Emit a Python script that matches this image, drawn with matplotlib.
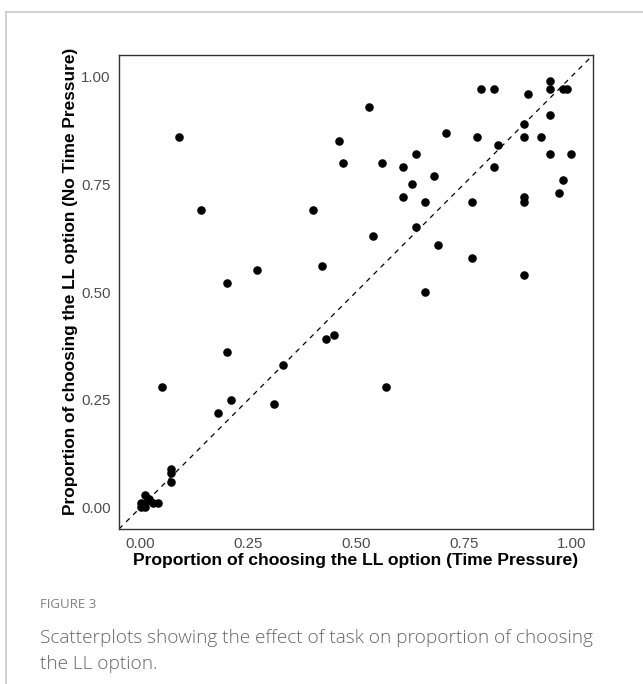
import matplotlib
matplotlib.use("Agg")
import matplotlib.pyplot as plt
from matplotlib.lines import Line2D

# Data: proportion of choosing LL option
time_pressure = [
    0.09, 0.14, 0.46, 0.47, 0.40, 0.42, 0.27, 0.20,
    0.53, 0.56, 0.54, 0.61, 0.64, 0.63, 0.61, 0.66, 0.68, 0.64,
    0.71, 0.69, 0.77, 0.77, 0.78, 0.79, 0.82, 0.82, 0.83,
    0.89, 0.89, 0.90, 0.89, 0.89, 0.89, 0.93, 0.95, 0.95, 0.95, 0.95,
    0.98, 0.99, 1.00, 0.98, 0.97,
    0.05, 0.20, 0.18, 0.21, 0.31, 0.33, 0.43, 0.45,
    0.07, 0.07, 0.07, 0.01, 0.02, 0.00, 0.00, 0.01, 0.03, 0.04, 0.01,
    0.66, 0.57,
]
no_time_pressure = [
    0.86, 0.69, 0.85, 0.80, 0.69, 0.56, 0.55, 0.52,
    0.93, 0.80, 0.63, 0.79, 0.82, 0.75, 0.72, 0.71, 0.77, 0.65,
    0.87, 0.61, 0.58, 0.71, 0.86, 0.97, 0.97, 0.79, 0.84,
    0.89, 0.86, 0.96, 0.72, 0.71, 0.54, 0.86, 0.99, 0.97, 0.91, 0.82,
    0.97, 0.97, 0.82, 0.76, 0.73,
    0.28, 0.36, 0.22, 0.25, 0.24, 0.33, 0.39, 0.40,
    0.09, 0.08, 0.06, 0.03, 0.02, 0.01, 0.00, 0.00, 0.01, 0.01, 0.01,
    0.50, 0.28,
]
tick_values = [0.00, 0.25, 0.50, 0.75, 1.00]
tick_labels = ["0.00", "0.25", "0.50", "0.75", "1.00"]

xlabel = "Proportion of choosing the LL option (Time Pressure)"
ylabel = "Proportion of choosing the LL option (No Time Pressure)"
fig_label = "FIGURE 3"
caption = "Scatterplots showing the effect of task on proportion of choosing\nthe LL option."

fig = plt.figure(figsize=(6.43, 6.84), dpi=100)
W, H = 643, 684

# page frame (left and top border)
fig.add_artist(Line2D([6 / W, 6 / W], [0, 1 - 12 / H], transform=fig.transFigure,
                      color="#c8c8c8", lw=1.2))
fig.add_artist(Line2D([6 / W, 1], [1 - 12 / H, 1 - 12 / H], transform=fig.transFigure,
                      color="#c8c8c8", lw=1.2))

ax = fig.add_axes([119 / W, 1 - 529 / H, (593 - 119) / W, (529 - 55) / H])
ax.set_xlim(-0.05, 1.05)
ax.set_ylim(-0.05, 1.05)
ax.plot([-0.05, 1.05], [-0.05, 1.05], ls=(0, (4, 4)), color="black", lw=0.9, zorder=1)
ax.scatter(time_pressure, no_time_pressure, s=38, color="black", linewidths=0, zorder=2)

ax.set_xticks(tick_values)
ax.set_xticklabels(tick_labels)
ax.set_yticks(tick_values)
ax.set_yticklabels(tick_labels)
ax.tick_params(length=0, labelsize=10.8, labelcolor="#4D4D4D", pad=6)
for lab in ax.get_xticklabels() + ax.get_yticklabels():
    lab.set_family("Liberation Sans")
for sp in ax.spines.values():
    sp.set_color("#333333")
    sp.set_linewidth(1.0)

ax.set_xlabel(xlabel, fontsize=12.6, fontweight="bold", family="Liberation Sans", labelpad=1)
ax.set_ylabel(ylabel, fontsize=12.4, fontweight="bold", family="Liberation Sans")
ax.yaxis.set_label_coords(-0.087, 0.522)

fig.text(40 / W, 1 - 604 / H, fig_label, fontsize=9.5, color="#808080",
         family="Open Sans", va="center", ha="left")
fig.text(40 / W, 1 - 651 / H, caption, fontsize=13.7, color="#666666",
         family="Open Sans", va="center", ha="left", linespacing=1.6,
         fontweight="light")

fig.savefig("out.png", dpi=100)
